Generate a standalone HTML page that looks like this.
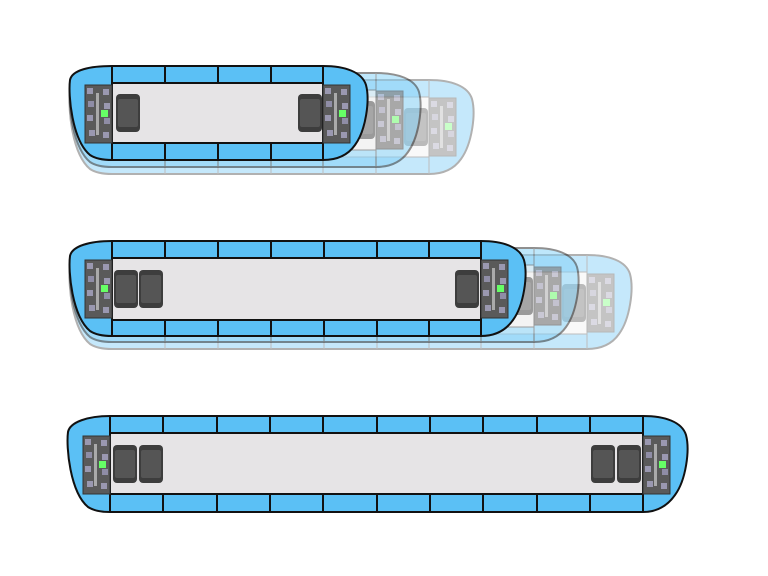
<!DOCTYPE html>
<html><head><style>html,body{margin:0;padding:0;background:#fff;width:768px;height:576px;overflow:hidden}</style></head>
<body>
<svg width="768" height="576" viewBox="0 0 768 576" xmlns="http://www.w3.org/2000/svg">
<defs>
<g id="board">
<rect x="0" y="0" width="27" height="58" fill="#5a5a5a"/>
<rect x="2" y="3" width="6" height="6" fill="#9a98b0"/><rect x="18" y="4" width="6" height="6" fill="#9a98b0"/>
<rect x="3" y="16" width="6" height="6" fill="#8f8da6"/><rect x="19" y="18" width="6" height="6" fill="#9a98b0"/>
<rect x="2" y="30" width="6" height="6" fill="#9a98b0"/><rect x="19" y="33" width="6" height="6" fill="#8f8da6"/>
<rect x="4" y="45" width="6" height="6" fill="#9a98b0"/><rect x="18" y="47" width="6" height="6" fill="#9a98b0"/>
<rect x="11" y="8" width="3" height="42" fill="#aaa"/>
<rect x="16" y="25" width="7" height="7" fill="#6f6"/>
<rect x="0" y="0" width="27" height="58" fill="none" stroke="#333" stroke-width="1"/>
</g>
<g id="phone">
<rect x="0" y="0" width="24" height="38" rx="4" fill="#3d3d3d"/>
<rect x="2" y="5" width="20" height="28" rx="2" fill="#555"/>
</g>
</defs>

<!-- Row 1 ghosts -->
<g opacity="0.35">
<path d="M112,80 L429,80 C451,80 468,86 472,99 C476,114 472,144 461,159 C454,169 444,174 429,174 L112,174 C104,174 96,173 90,169 C72,154 68,109 70,94 C72,84 90,80 112,80 Z" fill="#5bc0f5" stroke="#222" stroke-width="2"/>
<rect x="112" y="97" width="317" height="60" fill="#eee" stroke="#444"/>
<g stroke="#444"><line x1="165" y1="157" x2="165" y2="174"/><line x1="218" y1="157" x2="218" y2="174"/><line x1="271" y1="157" x2="271" y2="174"/><line x1="323" y1="157" x2="323" y2="174"/><line x1="376" y1="157" x2="376" y2="174"/><line x1="429" y1="80" x2="429" y2="174"/></g>
<use href="#board" x="429" y="98"/><use href="#phone" x="404" y="108"/>
</g>
<g opacity="0.5">
<path d="M112,73 L376,73 C398,73 415,79 419,92 C423,107 419,137 408,152 C401,162 391,167 376,167 L112,167 C104,167 96,166 90,162 C72,147 68,102 70,87 C72,77 90,73 112,73 Z" fill="#7fd0f8" stroke="#222" stroke-width="2"/>
<rect x="112" y="90" width="264" height="60" fill="#eee" stroke="#444"/>
<g stroke="#444"><line x1="165" y1="150" x2="165" y2="167"/><line x1="218" y1="150" x2="218" y2="167"/><line x1="271" y1="150" x2="271" y2="167"/><line x1="323" y1="150" x2="323" y2="167"/><line x1="376" y1="73" x2="376" y2="167"/></g>
<use href="#board" x="376" y="91"/><use href="#phone" x="351" y="101"/>
</g>
<!-- Row 1 main -->
<path d="M112,66 L323,66 C345,66 362,72 366,85 C370,100 366,130 355,145 C348,155 338,160 323,160 L112,160 C104,160 96,159 90,155 C72,140 68,95 70,80 C72,70 90,66 112,66 Z" fill="#5bc0f5" stroke="#111" stroke-width="2"/>
<rect x="112" y="83" width="211" height="60" fill="#e6e4e6" stroke="#111" stroke-width="2"/>
<g stroke="#111" stroke-width="2"><line x1="112" y1="66" x2="112" y2="160"/><line x1="165" y1="66" x2="165" y2="83"/><line x1="218" y1="66" x2="218" y2="83"/><line x1="271" y1="66" x2="271" y2="83"/><line x1="323" y1="66" x2="323" y2="160"/><line x1="165" y1="143" x2="165" y2="160"/><line x1="218" y1="143" x2="218" y2="160"/><line x1="271" y1="143" x2="271" y2="160"/></g>
<use href="#board" x="85" y="85"/><use href="#board" x="323" y="85"/>
<use href="#phone" x="116" y="94"/><use href="#phone" x="298" y="94"/>

<!-- Row 2 ghosts -->
<g opacity="0.35">
<path d="M112,255 L587,255 C609,255 626,261 630,274 C634,289 630,319 619,334 C612,344 602,349 587,349 L112,349 C104,349 96,348 90,344 C72,329 68,284 70,269 C72,259 90,255 112,255 Z" fill="#5bc0f5" stroke="#222" stroke-width="2"/>
<rect x="112" y="272" width="475" height="62" fill="#eee" stroke="#444"/>
<g stroke="#444"><line x1="165" y1="334" x2="165" y2="349"/><line x1="218" y1="334" x2="218" y2="349"/><line x1="271" y1="334" x2="271" y2="349"/><line x1="324" y1="334" x2="324" y2="349"/><line x1="377" y1="334" x2="377" y2="349"/><line x1="429" y1="334" x2="429" y2="349"/><line x1="481" y1="334" x2="481" y2="349"/><line x1="534" y1="334" x2="534" y2="349"/><line x1="587" y1="255" x2="587" y2="349"/></g>
<use href="#board" x="587" y="274"/><use href="#phone" x="562" y="284"/>
</g>
<g opacity="0.5">
<path d="M112,248 L534,248 C556,248 573,254 577,267 C581,282 577,312 566,327 C559,337 549,342 534,342 L112,342 C104,342 96,341 90,337 C72,322 68,277 70,262 C72,252 90,248 112,248 Z" fill="#7fd0f8" stroke="#222" stroke-width="2"/>
<rect x="112" y="265" width="422" height="62" fill="#eee" stroke="#444"/>
<g stroke="#444"><line x1="165" y1="327" x2="165" y2="342"/><line x1="218" y1="327" x2="218" y2="342"/><line x1="271" y1="327" x2="271" y2="342"/><line x1="324" y1="327" x2="324" y2="342"/><line x1="377" y1="327" x2="377" y2="342"/><line x1="429" y1="327" x2="429" y2="342"/><line x1="481" y1="327" x2="481" y2="342"/><line x1="534" y1="248" x2="534" y2="342"/></g>
<use href="#board" x="534" y="267"/><use href="#phone" x="509" y="277"/>
</g>
<!-- Row 2 main -->
<path d="M112,241 L481,241 C503,241 520,247 524,260 C528,275 524,305 513,320 C506,330 496,336 481,336 L112,336 C104,336 96,335 90,331 C72,316 68,271 70,256 C72,246 90,241 112,241 Z" fill="#5bc0f5" stroke="#111" stroke-width="2"/>
<rect x="112" y="258" width="369" height="62" fill="#e6e4e6" stroke="#111" stroke-width="2"/>
<g stroke="#111" stroke-width="2">
<line x1="112" y1="241" x2="112" y2="336"/><line x1="481" y1="241" x2="481" y2="336"/>
<line x1="165" y1="241" x2="165" y2="258"/><line x1="218" y1="241" x2="218" y2="258"/><line x1="271" y1="241" x2="271" y2="258"/><line x1="324" y1="241" x2="324" y2="258"/><line x1="377" y1="241" x2="377" y2="258"/><line x1="429" y1="241" x2="429" y2="258"/>
<line x1="165" y1="320" x2="165" y2="336"/><line x1="218" y1="320" x2="218" y2="336"/><line x1="271" y1="320" x2="271" y2="336"/><line x1="324" y1="320" x2="324" y2="336"/><line x1="377" y1="320" x2="377" y2="336"/><line x1="429" y1="320" x2="429" y2="336"/>
</g>
<use href="#board" x="85" y="260"/><use href="#board" x="481" y="260"/>
<use href="#phone" x="114" y="270"/><use href="#phone" x="139" y="270"/><use href="#phone" x="455" y="270"/>

<!-- Row 3 -->
<path d="M110,416 L643,416 C665,416 682,422 686,435 C690,450 686,480 675,495 C668,505 658,512 643,512 L110,512 C102,512 94,511 88,507 C70,492 66,447 68,432 C70,422 88,416 110,416 Z" fill="#5bc0f5" stroke="#111" stroke-width="2"/>
<rect x="110" y="433" width="533" height="61" fill="#e6e4e6" stroke="#111" stroke-width="2"/>
<g stroke="#111" stroke-width="2">
<line x1="110" y1="416" x2="110" y2="512"/><line x1="643" y1="416" x2="643" y2="512"/>
<line x1="163" y1="416" x2="163" y2="433"/><line x1="217" y1="416" x2="217" y2="433"/><line x1="270" y1="416" x2="270" y2="433"/><line x1="323" y1="416" x2="323" y2="433"/><line x1="377" y1="416" x2="377" y2="433"/><line x1="430" y1="416" x2="430" y2="433"/><line x1="483" y1="416" x2="483" y2="433"/><line x1="537" y1="416" x2="537" y2="433"/><line x1="590" y1="416" x2="590" y2="433"/>
<line x1="163" y1="494" x2="163" y2="512"/><line x1="217" y1="494" x2="217" y2="512"/><line x1="270" y1="494" x2="270" y2="512"/><line x1="323" y1="494" x2="323" y2="512"/><line x1="377" y1="494" x2="377" y2="512"/><line x1="430" y1="494" x2="430" y2="512"/><line x1="483" y1="494" x2="483" y2="512"/><line x1="537" y1="494" x2="537" y2="512"/><line x1="590" y1="494" x2="590" y2="512"/>
</g>
<use href="#board" x="83" y="436"/><use href="#board" x="643" y="436"/>
<use href="#phone" x="113" y="445"/><use href="#phone" x="139" y="445"/><use href="#phone" x="591" y="445"/><use href="#phone" x="617" y="445"/>
</svg>
</body></html>
